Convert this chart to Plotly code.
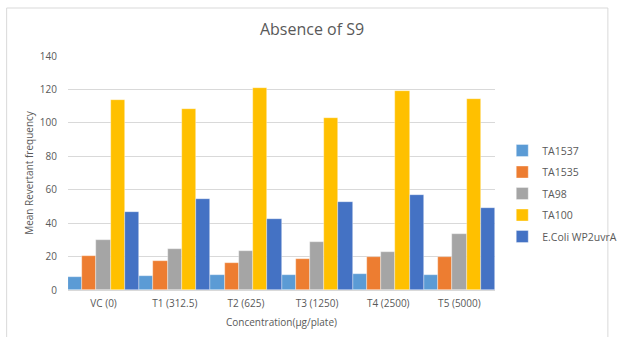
import plotly.graph_objects as go

categories = ["VC (0)", "T1 (312.5)", "T2 (625)", "T3 (1250)", "T4 (2500)", "T5 (5000)"]
ta1537 = [8, 8.5, 8.8, 9, 9.6, 8.8]
ta1535 = [20.5, 17.4, 16, 18.6, 19.6, 19.6]
ta98 = [30, 24.3, 23.1, 28.5, 22.9, 33.5]
ta100 = [113.5, 108.1, 120.7, 103.1, 119.1, 114.3]
ecoli = [46.5, 54.7, 42.3, 52.5, 56.7, 49.1]

series = [
    ("TA1537", ta1537, "#5B9BD5"),
    ("TA1535", ta1535, "#ED7D31"),
    ("TA98", ta98, "#A5A5A5"),
    ("TA100", ta100, "#FFC000"),
    ("E.Coli WP2uvrA", ecoli, "#4472C4"),
]

fig = go.Figure()
for name, vals, col in series:
    fig.add_trace(go.Bar(
        x=categories, y=vals, name=name, legendgroup=name,
        marker=dict(color=col, line=dict(color="rgba(255,255,255,0.6)", width=0.6)),
    ))

font_family = "Open Sans, Liberation Sans, sans-serif"
grey = "#595959"

fig.update_layout(
    width=634, height=337,
    margin=dict(l=68, r=131, t=56, b=47),
    paper_bgcolor="white", plot_bgcolor="white",
    barmode="group", bargap=0, bargroupgap=0,
    font=dict(family=font_family, color=grey, size=10),
    title=dict(text="Absence of S9", x=312/634, xanchor="center", y=1 - 29/337, yanchor="middle",
               font=dict(size=16, color=grey, family=font_family)),
    showlegend=True,
    legend=dict(x=1.017, xanchor="left", y=0.658, yanchor="top",
                font=dict(size=10.5, color=grey, family=font_family),
                tracegroupgap=2.5, itemwidth=30, bgcolor="rgba(0,0,0,0)"),
    xaxis=dict(showgrid=False, showline=False, zeroline=False,
               ticks="outside", ticklen=4, tickcolor="rgba(0,0,0,0)",
               tickfont=dict(size=10, color=grey),
               title=dict(text="Concentration(µg/plate)", font=dict(size=10, color=grey), standoff=9)),
    yaxis=dict(range=[0, 140], dtick=20, showgrid=True, gridcolor="#D9D9D9", gridwidth=1,
               zeroline=True, zerolinecolor="#D9D9D9", zerolinewidth=1,
               showline=False, ticks="", ticklabelstandoff=10,
               tickfont=dict(size=10, color=grey),
               title=dict(text="Mean Revertant frequency", font=dict(size=10, color=grey), standoff=4)),
    shapes=[dict(type="rect", xref="paper", yref="paper",
                 x0=(5.5 - 68) / 435, x1=(618 - 68) / 435,
                 y0=-0.3, y1=(290 - 8) / 234,
                 line=dict(color="#D9D9D9", width=1), fillcolor="rgba(0,0,0,0)", layer="below")],
)

fig.write_html("out.html")
